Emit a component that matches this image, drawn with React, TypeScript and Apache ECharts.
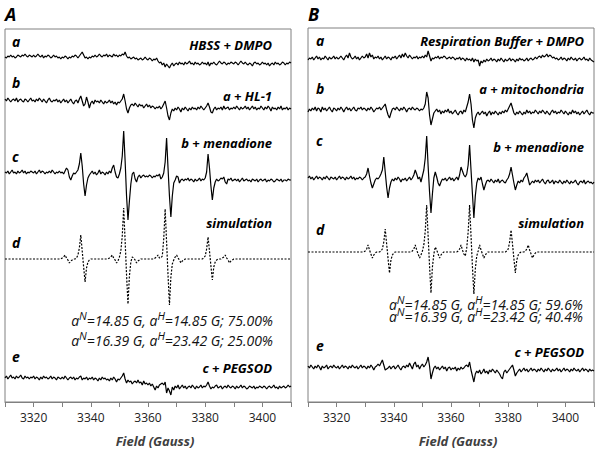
import { useEffect, useRef } from "react";
import * as echarts from "echarts";

// ---- field sampling (Gauss) ----
const FIELD_MIN = 3310;
const FIELD_MAX = 3410;
const FIELD_STEP = 0.5;
const TICK_LABELS = [3320, 3340, 3360, 3380, 3400];

// ---- texts ----
const TRACE_LETTERS = ["a", "b", "c", "d", "e"];
const A_LABELS = ["HBSS + DMPO", "a + HL-1", "b + menadione", "simulation", "c + PEGSOD"];
const B_LABELS = ["Respiration Buffer + DMPO", "a + mitochondria", "b + menadione", "simulation", "c + PEGSOD"];
const A_FIT = [
  ["14.85 G", "14.85 G", "75.00%"],
  ["16.39 G", "23.42 G", "25.00%"],
];
const B_FIT = [
  ["14.85 G", "14.85 G", "59.6%"],
  ["16.39 G", "23.42 G", "40.4%"],
];
const AXIS_TITLE = "Field (Gauss)";

// ---- spectra (signal, one value per 0.5 G from 3310 G) ----
const A_a = [
  3,2,4,3,5,3,4,2,3,5,4,3,5,4,6,4,3,5,4,3,
  5,3,4,6,4,3,5,2,4,3,5,4,2,3,5,3,4,2,3,1,
  3,2,4,3,1,3,2,4,3,5,4,2,4,6,8,5,2,3,1,3,
  2,4,3,5,3,4,6,4,3,5,4,6,3,5,4,3,6,4,5,3,
  5,4,6,5,8,4,2,3,1,2,3,1,2,0,1,2,0,1,3,1,
  0,2,1,-1,1,0,2,-1,-3,-2,-5,-3,-7,-4,-6,-8,-5,-3,-6,-4,
  -3,-5,-2,-4,-3,-5,-2,-4,-3,-1,-4,-3,-5,-2,-4,-3,-5,-4,-2,-4,
  -3,-5,-2,-6,-3,-4,-2,-4,-5,-3,-1,-3,-4,-2,-3,-5,-3,-4,-2,-3,
  -4,-2,-3,-5,-3,-1,-3,-4,-2,-4,-5,-3,-4,-6,-3,-2,-4,-3,-5,-4,
  -2,-4,-3,-5,-3,-6,-4,-3,-5,-2,-4,-3,-5,-4,-2,-3,-5,-3,-4,-2,
  -3,
];
const A_b = [
  5,3,6,4,2,4,5,3,6,2,4,5,3,2,5,4,2,4,6,3,
  4,2,5,3,6,4,2,5,3,1,4,6,3,2,4,3,5,2,4,1,
  3,5,2,4,1,3,5,2,0,3,4,1,5,8,3,-2,0,7,2,-4,
  1,3,0,4,2,3,1,4,2,0,3,1,2,4,1,3,0,2,-1,2,
  1,3,5,10,3,-5,-9,-4,-1,0,-2,1,-1,-3,0,-2,-1,-4,-2,0,
  -3,-1,-4,-2,-3,-5,-3,-4,-2,-5,-3,0,3,-4,-12,-16,-9,-5,-7,-4,
  -6,-3,-5,-8,-4,-6,-3,-5,-7,-4,-6,-3,-5,-4,-6,-3,-5,-2,-4,-6,
  -4,-2,1,-3,-8,-9,-5,-3,-6,-4,-5,-3,-6,-2,-5,-4,-3,-6,-4,-5,
  -3,-5,-2,-4,-6,-3,-5,-4,-2,-5,-3,-6,-4,-2,-5,-3,-6,-4,-5,-2,
  -4,-6,-3,-5,-2,-4,-7,-3,-5,-4,-6,-3,-5,-2,-6,-4,-5,-3,-6,-4,
  -5,
];
const A_c = [
  4,3,5,2,4,6,3,4,2,5,3,4,6,3,5,2,4,3,5,4,
  3,5,2,4,6,3,5,4,2,4,3,5,3,6,4,2,4,3,5,3,
  4,2,5,8,6,-1,-4,0,3,2,4,6,12,23,10,-8,-20,-9,-2,1,
  3,5,2,4,1,3,6,2,4,3,1,4,2,5,3,8,11,4,-1,-2,
  2,8,20,45,15,-20,-44,-25,-8,2,4,-3,-6,-1,1,-2,0,1,-1,0,
  -1,1,0,-2,0,-1,1,0,2,-3,-1,3,14,38,8,-20,-41,-20,-7,-4,
  0,-1,-7,-4,-3,-5,-3,-4,-2,-5,-3,-4,-6,-3,-5,-4,-2,-5,-3,-4,
  -2,4,22,8,-10,-24,-12,-6,-3,-5,-4,-2,-3,-1,-6,-8,-3,-4,-2,-5,
  -4,-3,-5,-3,-6,-4,-2,-5,-4,-3,-5,-4,-6,-3,-4,-5,-3,-6,-4,-3,
  -5,-4,-3,-6,-4,-5,-3,-4,-6,-5,-3,-4,-5,-3,-6,-4,-4,-5,-3,-4,
  -4,
];
const A_d = [
  0,0,0,0,0,0,0,0,0,0,0,0,0,0,0,0,0,0,0,0,
  0,0,0,0,0,0,0,0,0,0,0,0,0,0,0,0,0,0,0,0,
  1,2,4,1,-1,-4,-2,-1,0,0,1,4,11,24,8,-8,-23,-9,-3,-1,
  0,0,0,0,0,0,0,0,0,0,0,0,0,1,2,4,1,-1,-4,-2,
  2,8,23,51,18,-16,-45,-17,-3,2,1,-1,-4,-2,-1,0,0,0,0,0,
  0,0,0,0,0,1,2,4,1,1,3,20,50,17,-16,-46,-18,-5,-1,2,
  4,1,-1,-4,-2,-1,0,0,0,0,0,0,0,0,0,0,0,0,0,1,
  3,10,22,8,-7,-21,-8,-3,-1,0,0,0,1,2,4,1,-1,-4,-2,-1,
  0,0,0,0,0,0,0,0,0,0,0,0,0,0,0,0,0,0,0,0,
  0,0,0,0,0,0,0,0,0,0,0,0,0,0,0,0,0,0,0,0,
  0,
];
const A_e = [
  4,6,3,5,7,4,5,3,6,4,5,7,4,3,6,4,5,3,5,4,
  6,3,5,4,2,5,3,6,4,5,3,4,6,3,5,4,2,5,4,3,
  5,3,6,4,2,4,5,3,5,2,4,3,5,6,2,4,3,5,2,4,
  3,5,2,4,3,1,4,2,5,3,4,2,3,1,4,2,5,3,0,3,
  2,4,6,9,3,-1,2,0,1,-2,0,1,-1,2,-1,0,-3,1,-2,-1,
  -3,-1,-4,-2,-5,-8,-4,-6,-3,-2,-1,-3,0,-11,-6,-9,-13,-5,-8,-4,
  -6,-3,-7,-5,-3,-6,-4,-7,-5,-4,-6,-3,-5,-7,-4,-6,-5,-3,-6,-4,
  -5,-3,0,-4,-7,-5,-6,-4,-3,-6,-5,-4,-7,-5,-4,-6,-3,-5,-6,-4,
  -5,-7,-4,-6,-5,-3,-6,-4,-5,-7,-6,-4,-5,-6,-4,-7,-5,-6,-4,-5,
  -6,-4,-5,-7,-5,-4,-6,-5,-3,-6,-5,-7,-4,-6,-5,-4,-6,-5,-3,-5,
  -4,
];

const B_a = [
  -1,1,0,2,-1,1,3,0,2,-1,1,0,3,1,-1,2,0,1,3,0,
  2,0,1,3,1,-1,2,4,1,6,2,0,1,3,0,2,-1,1,3,1,
  2,5,1,6,2,4,0,2,1,3,0,2,-1,1,3,0,2,1,-1,2,
  1,3,0,2,4,1,5,2,6,3,1,4,2,0,2,1,3,0,2,1,
  3,1,4,2,8,3,-2,1,0,2,1,3,0,2,1,3,2,0,1,2,
  0,2,1,-1,1,0,2,-1,1,0,-2,1,-1,0,-2,1,-3,0,-2,-1,
  -7,-2,-4,-1,-3,0,-2,-1,1,-2,0,-1,-3,0,-2,1,-1,-3,0,-2,
  -1,1,-2,0,-1,-3,0,-2,1,-1,0,-2,-1,1,-2,0,1,-1,0,2,
  0,2,3,1,4,2,3,5,2,4,3,1,2,0,1,-1,0,2,-1,1,
  0,-2,1,-1,2,0,-1,1,-2,0,1,-1,0,2,-1,0,-2,1,-1,-2,
  -3,
];
const B_b = [
  -2,1,-1,2,0,3,-1,2,1,-2,3,0,2,-1,1,3,0,-2,2,1,
  -1,2,0,3,1,-2,1,3,0,2,-1,1,3,0,-1,2,1,3,0,2,
  1,-1,2,0,3,1,-2,0,2,1,3,0,2,4,6,0,-5,-8,-3,1,
  2,0,3,1,-1,2,0,3,1,-2,1,2,0,3,1,0,2,1,-1,1,
  0,2,6,18,12,-5,-15,-9,-3,-1,1,-2,0,-4,-1,-3,0,-2,1,-3,
  -1,-4,-2,0,-3,-5,-2,-1,-4,0,-2,3,8,16,6,-10,-18,-8,-4,-2,
  -5,-3,-1,-4,-2,-6,-3,-1,-5,-2,-4,-1,-3,-5,-2,-4,-1,-3,0,-2,
  1,4,7,2,-3,-5,-2,-4,-1,-3,-5,-2,-4,0,-3,-1,-4,-2,-3,0,
  -2,-4,-1,-3,0,-2,-4,-1,-3,-5,-2,0,-3,-1,-4,-2,-3,0,-2,-4,
  -1,-3,-5,-2,-4,0,-3,-1,-4,-2,-5,-3,-1,-4,-2,0,-3,-5,-2,-3,
  -3,
];
const B_c = [
  2,4,1,3,0,2,4,1,3,2,0,3,1,4,2,0,3,2,1,3,
  0,2,4,1,3,2,0,3,1,2,4,1,3,0,2,1,3,2,0,2,
  3,6,12,4,-3,-8,-4,0,2,1,3,6,10,23,8,-7,-18,-8,-2,1,
  -1,2,0,3,1,-2,1,0,2,-1,1,3,0,2,5,10,6,1,3,-2,
  4,10,22,44,14,-12,-33,-14,2,8,3,-3,-6,-2,1,0,2,-1,1,3,
  0,2,-1,1,3,0,5,13,9,5,3,6,15,35,10,-14,-38,-16,-3,2,
  0,3,-4,-10,-5,-1,0,-2,1,-1,-3,0,-2,1,-3,-1,0,-2,-3,0,
  2,6,13,5,-3,-10,-5,-1,-3,0,-2,2,4,7,1,-5,-3,-1,-3,0,
  -2,0,-3,-1,1,-2,-4,-1,0,-3,-2,0,-4,-1,-2,-3,0,-2,-4,-1,
  -3,0,-2,-4,-1,-3,-2,0,-3,-5,-2,-1,-3,0,-4,-2,-1,-3,-2,-4,
  -2,
];
const B_d = [
  0,0,0,0,0,0,0,0,0,0,0,0,0,0,0,0,0,0,0,0,
  0,0,0,0,0,0,0,0,0,0,0,0,0,0,0,0,0,0,0,0,
  1,3,7,2,-2,-6,-3,-1,0,0,0,1,3,10,23,8,-7,-21,-8,-3,
  -1,0,0,0,0,0,0,0,0,0,0,0,0,1,3,7,2,-2,-6,-3,
  1,7,21,47,16,-14,-41,-15,-2,5,2,-2,-6,-3,-1,0,0,0,0,0,
  0,0,0,0,0,1,3,7,2,-2,-4,4,20,47,16,-15,-42,-17,-4,1,
  7,2,-2,-6,-3,-1,0,0,0,0,0,0,0,0,0,0,0,0,0,1,
  3,10,22,8,-7,-21,-8,-3,-1,0,0,0,1,3,7,2,-2,-6,-3,-1,
  0,0,0,0,0,0,0,0,0,0,0,0,0,0,0,0,0,0,0,0,
  0,0,0,0,0,0,0,0,0,0,0,0,0,0,0,0,0,0,0,0,
  0,
];
const B_e = [
  2,0,3,1,-1,2,0,3,1,-2,2,0,1,3,-1,1,2,0,3,1,
  0,2,-1,1,3,0,2,1,-1,2,0,3,1,0,2,-1,1,3,0,2,
  1,-1,2,0,3,1,-2,1,2,4,2,5,8,3,-2,-1,0,2,-1,1,
  2,-1,1,3,0,-2,1,2,0,3,1,5,2,-1,4,6,1,3,-1,2,
  4,1,3,6,11,2,-11,-5,0,2,-1,1,-2,0,2,-1,1,-3,0,1,
  -2,0,-1,1,-3,0,-2,1,-1,0,2,3,1,6,-2,-8,-14,-6,-3,-5,
  -2,-6,-4,-1,-5,-3,-6,-2,-4,-1,-3,-5,-2,-4,-6,-9,-11,-4,-2,-5,
  -3,-1,1,3,-2,-8,-5,-3,-1,-4,-2,0,-3,-1,-4,-2,0,-3,-1,-2,
  -4,-1,-3,0,-2,-4,-1,-3,0,-2,-4,-1,-3,-2,0,-3,-1,-4,-2,0,
  -3,-1,-2,-4,-1,-3,0,-2,-3,-1,-4,-2,0,-3,-1,-2,-4,-1,-3,-2,
  -3,
];

// ---- layout (pixels) ----
const FONT = '"Open Sans", "DejaVu Sans", sans-serif';
const PANELS = [
  {
    title: "A",
    grid: { left: 5, top: 29, width: 286, height: 373 },
    traces: [A_a, A_b, A_c, A_d, A_e],
    labels: A_LABELS,
    fit: A_FIT,
    offsets: [342, 298, 226, 143, 20],
    letterX: 12,
    letterBase: [47, 88, 162, 248, 362],
    labelRight: 272,
    labelBase: [50, 101, 148, 228, 373],
    fitRight: 273,
    fitBase: [326, 346],
    axisTitleX: 155,
  },
  {
    title: "B",
    grid: { left: 308, top: 28, width: 286, height: 374 },
    traces: [B_a, B_b, B_c, B_d, B_e],
    labels: B_LABELS,
    fit: B_FIT,
    offsets: [343, 292, 222, 150, 34],
    letterX: 316,
    letterBase: [46, 94, 146, 235, 351],
    labelRight: 584,
    labelBase: [46, 94, 152, 228, 357],
    fitRight: 583,
    fitBase: [310, 322],
    axisTitleX: 458,
  },
];

function mid(baseline: number, fs: number) {
  return baseline - fs * 0.36;
}

export default function App() {
  const ref = useRef<HTMLDivElement>(null);
  useEffect(() => {
    if (!ref.current) return;
    const chart = echarts.init(ref.current, null, { renderer: "svg" });
    const grids: any[] = [];
    const xAxes: any[] = [];
    const yAxes: any[] = [];
    const series: any[] = [];
    const graphics: any[] = [];

    PANELS.forEach((p, pi) => {
      grids.push({
        ...p.grid,
        show: true,
        borderColor: "#808080",
        borderWidth: 1,
        backgroundColor: "transparent",
      });
      xAxes.push({
        type: "value",
        gridIndex: pi,
        min: FIELD_MIN,
        max: FIELD_MAX,
        interval: 10,
        axisLine: { show: true, onZero: false, lineStyle: { color: "#808080", width: 1 } },
        axisTick: { show: true, length: 5, lineStyle: { color: "#808080" } },
        axisLabel: {
          formatter: (v: number) => (TICK_LABELS.includes(v) ? String(v) : ""),
          color: "#222",
          fontSize: 12,
          fontFamily: FONT,
          margin: 9,
        },
        splitLine: { show: false },
      });
      yAxes.push({
        type: "value",
        gridIndex: pi,
        min: 0,
        max: p.grid.height,
        show: false,
      });
      p.traces.forEach((vals, k) => {
        series.push({
          type: "line",
          xAxisIndex: pi,
          yAxisIndex: pi,
          symbol: "none",
          silent: true,
          z: k === 3 ? 1 : 2,
          lineStyle: { color: "#000", width: 1.2, type: k === 3 ? [2, 1.5] : "solid" },
          data: vals.map((v, i) => [FIELD_MIN + i * FIELD_STEP, p.offsets[k] + v]),
        });
      });

      // panel title
      graphics.push({
        type: "text",
        left: p.grid.left,
        top: 5,
        style: {
          text: p.title,
          fontSize: 18,
          fontWeight: "bold",
          fontStyle: "italic",
          fontFamily: FONT,
          fill: "#000",
        },
      });
      // trace letters + labels
      TRACE_LETTERS.forEach((t, k) => {
        graphics.push({
          type: "text",
          x: p.letterX,
          y: mid(p.letterBase[k], 14),
          style: {
            text: t,
            fontSize: 14,
            fontWeight: "bold",
            fontStyle: "italic",
            fontFamily: FONT,
            fill: "#000",
            align: "left",
            verticalAlign: "middle",
          },
        });
        graphics.push({
          type: "text",
          x: p.labelRight,
          y: mid(p.labelBase[k], 13),
          style: {
            text: p.labels[k],
            fontSize: 13,
            fontWeight: "bold",
            fontStyle: "italic",
            fontFamily: FONT,
            fill: "#000",
            align: "right",
            verticalAlign: "middle",
          },
        });
      });
      // fit parameters
      p.fit.forEach((f, j) => {
        graphics.push({
          type: "text",
          x: p.fitRight,
          y: mid(p.fitBase[j], 14) - 2.5,
          style: {
            text: `{i|a}{s|N}{i|=${f[0]}, a}{s|H}{i|=${f[1]}; ${f[2]}}`,
            align: "right",
            verticalAlign: "middle",
            rich: {
              i: {
                fontSize: 14,
                fontStyle: "italic",
                fontFamily: FONT,
                fill: "#111",
                lineHeight: 12,
                padding: [5, 0, 0, 0],
              },
              s: {
                fontSize: 11,
                fontStyle: "italic",
                fontFamily: FONT,
                fill: "#111",
                lineHeight: 12,
                padding: [0, 0, 5, 0],
              },
            },
          },
        });
      });
      // axis title
      graphics.push({
        type: "text",
        x: p.axisTitleX,
        y: mid(446, 13),
        style: {
          text: AXIS_TITLE,
          fontSize: 13,
          fontWeight: "bold",
          fontStyle: "italic",
          fontFamily: FONT,
          fill: "#404040",
          align: "center",
          verticalAlign: "middle",
        },
      });
    });

    chart.setOption({
      animation: false,
      backgroundColor: "#fff",
      grid: grids,
      xAxis: xAxes,
      yAxis: yAxes,
      series,
      graphic: graphics,
    });
    return () => chart.dispose();
  }, []);
  return (
    <div
      ref={ref}
      style={{ position: "fixed", left: 0, top: 0, width: 600, height: 454, background: "#fff" }}
    />
  );
}
